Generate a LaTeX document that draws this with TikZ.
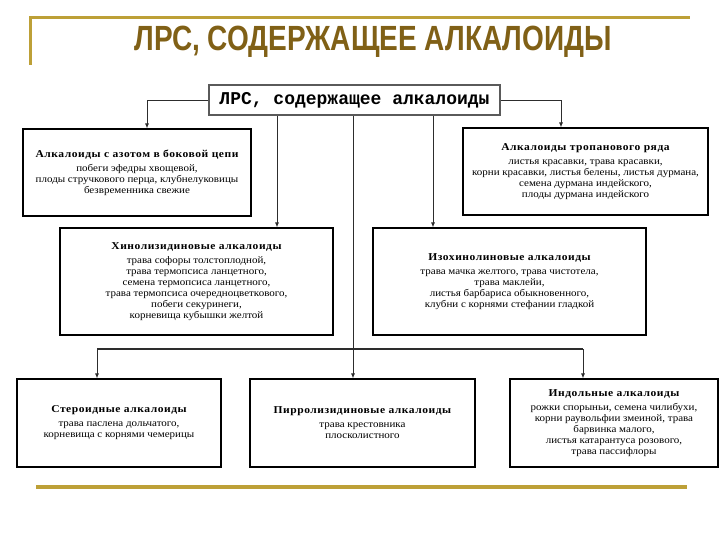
\documentclass[tikz,border=0pt]{standalone}
\usepackage{fontspec}
\setmainfont{Liberation Serif}
\newfontfamily\headfont[FakeStretch=0.8]{Liberation Sans}
\newfontfamily\boxfont[FakeStretch=1.1]{Liberation Serif}
\newfontfamily\rootfont{Liberation Mono}
\usetikzlibrary{arrows.meta}
\definecolor{lsgold}{RGB}{189,160,55}
\definecolor{lstitle}{RGB}{128,96,22}
\definecolor{lsline}{RGB}{45,45,45}
\definecolor{lsgrey}{RGB}{90,90,90}
\tikzset{
  lsbox/.style={draw=black, line width=1.2pt, align=center, inner sep=3pt, font=\boxfont\fontsize{10}{11}\selectfont},
  lsroot/.style={draw=lsgrey, line width=1.6pt, fill=white, inner sep=2pt, font=\rootfont\bfseries\fontsize{18}{20}\selectfont, minimum width=291pt, minimum height=30pt},
  lsarr/.style={-{Latex[length=5pt,width=4pt]}, line width=0.8pt, draw=lsline},
  lsbar/.style={line width=1.6pt, draw=lsline},
  lsrule/.style={draw=lsgold, line width=3pt}
}
\newcommand{\lshead}[1]{{\bfseries\fontsize{10.5}{12}\selectfont\addfontfeature{LetterSpace=5}#1}\\[3pt]}

\begin{document}
\begin{tikzpicture}[x=1pt, y=-1pt]
  \useasboundingbox (0,0) rectangle (720,540);
  % title and rules
  \draw[lsrule] (30,65) -- (30,18) -- (690,18);
  \node[font=\headfont\bfseries\fontsize{35}{37}\selectfont, text=lstitle] (title) at (373,42) {ЛРС, СОДЕРЖАЩЕЕ АЛКАЛОИДЫ};
  \draw[lsrule, line width=4pt] (36,487) -- (687,487);
  % boxes
  \node[lsroot] (root) at (354.5,100) {ЛРС, содержащее алкалоиды};
  \node[lsbox, minimum width=228pt, minimum height=87pt] (side) at (137,172.5) {\lshead{Алкалоиды с азотом в боковой цепи}
    побеги эфедры хвощевой,\\ плоды стручкового перца, клубнелуковицы\\ безвременника свежие};
  \node[lsbox, minimum width=245pt, minimum height=87pt] (tropane) at (585.5,171.5) {\lshead{Алкалоиды тропанового ряда}
    листья красавки, трава красавки,\\ корни красавки, листья белены, листья дурмана,\\ семена дурмана индейского,\\ плоды дурмана индейского};
  \node[lsbox, minimum width=273pt, minimum height=107pt] (quinol) at (196.5,281.5) {\lshead{Хинолизидиновые алкалоиды}
    трава софоры толстоплодной,\\ трава термопсиса ланцетного,\\ семена термопсиса ланцетного,\\ трава термопсиса очередноцветкового,\\ побеги секуринеги,\\ корневища кубышки желтой};
  \node[lsbox, minimum width=273pt, minimum height=107pt] (isoquin) at (509.5,281.5) {\lshead{Изохинолиновые алкалоиды}
    трава мачка желтого, трава чистотела,\\ трава маклейи,\\ листья барбариса обыкновенного,\\ клубни с корнями стефании гладкой};
  \node[lsbox, minimum width=204pt, minimum height=88pt] (steroid) at (119,423) {\lshead{Стероидные алкалоиды}
    трава паслена дольчатого,\\ корневища с корнями чемерицы};
  \node[lsbox, minimum width=225pt, minimum height=88pt] (pyrrol) at (362.5,423) {\lshead{Пирролизидиновые алкалоиды}
    трава крестовника\\ плосколистного};
  \node[lsbox, minimum width=208pt, minimum height=88pt] (indole) at (614,423) {\lshead{Индольные алкалоиды}
    рожки спорыньи, семена чилибухи,\\ корни раувольфии змеиной, трава\\ барвинка малого,\\ листья катарантуса розового,\\ трава пассифлоры};
  % connectors
  \coordinate (xq) at (277,0);
  \coordinate (xc) at (353,0);
  \coordinate (xi) at (433,0);
  \coordinate (xs) at (97,0);
  \coordinate (xn) at (583,0);
  \coordinate (bar) at (353,349);
  \draw[lsarr] (root.west) -| ([xshift=10pt]side.north);
  \draw[lsarr] (root.east) -| ([xshift=-24.5pt]tropane.north);
  \draw[lsarr] (root.south -| xq) -- (quinol.north -| xq);
  \draw[lsarr] (root.south -| xi) -- (isoquin.north -| xi);
  \draw[lsarr] (root.south -| xc) -- (pyrrol.north -| xc);
  \draw[lsbar] (bar -| xs) -- (bar -| xn);
  \draw[lsarr] (bar -| xs) -- (steroid.north -| xs);
  \draw[lsarr] (bar -| xn) -- (indole.north -| xn);
\end{tikzpicture}
\end{document}
